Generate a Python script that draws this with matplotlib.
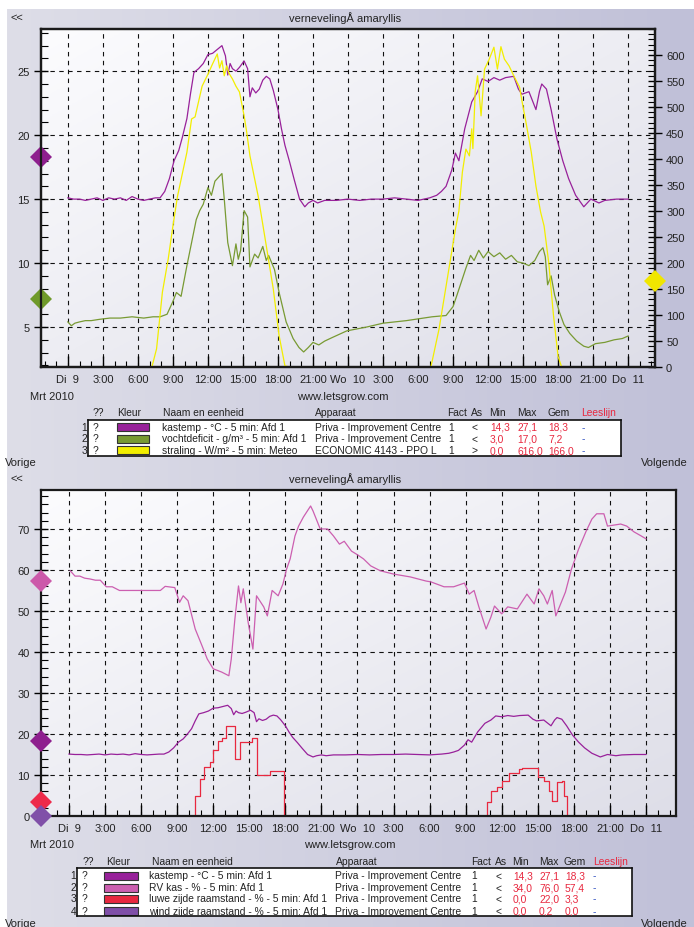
import numpy as np
import matplotlib
matplotlib.use("Agg")
import matplotlib.pyplot as plt
from matplotlib.patches import Rectangle

plt.rcParams['font.family'] = ['Liberation Sans', 'DejaVu Sans']

W, H = 694, 928

# tijd in uren vanaf Di 9 maart 2010 00:00
t_kastemp = [0, 0.5, 1.0, 1.5, 2.0, 2.5, 3.0, 3.5, 4.0, 4.5, 5.0, 5.5, 6.0, 6.5, 7.0, 7.5,
             7.9, 8.3, 8.7, 9.1, 9.5, 9.8, 10.2, 10.5, 10.8, 11.2, 11.6, 12.0, 12.4, 12.8,
             13.2, 13.5, 13.7, 13.9, 14.1, 14.4, 14.7, 15.1, 15.4, 15.6, 15.8, 16.1, 16.4,
             16.7, 17.0, 17.3, 17.6, 18.0, 18.3, 18.6, 19.0, 19.4, 19.85, 20.3, 20.6, 21.0,
             21.4, 22, 23, 24, 25, 26, 27, 28, 29, 30, 31, 31.6, 32.0, 32.4, 32.9, 33.2,
             33.5, 34.0, 34.6, 35.1, 35.5, 36.0, 36.5, 37.0, 37.5, 38.2, 38.6, 38.9, 39.5,
             40.1, 40.4, 40.6, 41.0, 41.4, 41.9, 42.4, 42.9, 43.5, 44.2, 44.8, 45.5, 46, 47, 48]
kastemp = [15.1, 15.0, 15.0, 14.9, 15.0, 15.1, 14.9, 15.1, 15.0, 15.1, 14.9, 15.2, 15.0, 14.9,
           15.0, 15.1, 15.1, 15.6, 16.6, 18.0, 18.8, 19.8, 21.3, 23.2, 24.9, 25.2, 25.6, 26.3,
           26.4, 26.7, 27.0, 26.2, 24.7, 25.6, 25.2, 25.0, 25.3, 25.8, 25.2, 23.0, 23.7, 23.3,
           23.6, 24.3, 24.6, 24.4, 23.5, 22.0, 20.5, 19.2, 17.9, 16.5, 15.0, 14.4, 14.7, 14.9,
           14.7, 14.9, 14.9, 15.0, 14.9, 15.0, 15.0, 15.1, 15.0, 14.9, 15.1, 15.3, 15.6, 16.0,
           17.3, 18.6, 18.0, 20.5, 22.6, 23.4, 24.4, 24.2, 24.5, 24.3, 24.5, 24.6, 23.6, 23.2,
           23.4, 22.0, 23.4, 24.0, 23.6, 22.0, 19.7, 18.0, 16.6, 15.3, 14.4, 15.0, 14.7, 14.9,
           15.0, 15.0]

t_vocht = [0, 0.3, 0.6, 1.0, 1.5, 2.0, 2.7, 3.6, 4.5, 5.5, 6.5, 7.3, 7.9, 8.5, 9.0, 9.3, 9.7,
           10.2, 10.6, 11.0, 11.3, 11.6, 12.0, 12.3, 12.6, 12.9, 13.2, 13.4, 13.7, 14.1, 14.4,
           14.6, 14.8, 15.1, 15.4, 15.6, 16.0, 16.3, 16.7, 17.0, 17.2, 17.7, 18.1, 18.7, 19.3,
           19.8, 20.2, 20.6, 21.0, 21.5, 22.0, 22.7, 23.9, 25.6, 27.0, 29.0, 31.2, 32.4, 33.0,
           33.3, 33.7, 34.1, 34.5, 34.8, 35.2, 35.6, 36.0, 36.5, 37.0, 37.5, 38.0, 38.5, 39.0,
           39.5, 40.0, 40.4, 40.7, 40.9, 41.1, 41.4, 41.7, 42.1, 42.5, 43.0, 43.6, 44.2, 44.6,
           45.2, 46.0, 46.8, 47.5, 48.0]
vocht = [5.4, 5.1, 5.3, 5.4, 5.5, 5.5, 5.6, 5.7, 5.7, 5.8, 5.7, 5.8, 5.8, 6.0, 7.0, 7.7, 7.4,
         9.8, 11.6, 13.4, 14.1, 14.6, 15.9, 15.3, 16.4, 16.7, 17.0, 15.0, 11.6, 9.8, 11.5, 10.3,
         11.0, 14.1, 13.6, 9.7, 10.7, 10.4, 11.3, 10.2, 10.6, 9.5, 7.7, 5.4, 4.1, 3.4, 3.05, 3.4,
         3.8, 3.6, 3.9, 4.2, 4.7, 5.0, 5.3, 5.5, 5.8, 5.9, 6.6, 7.4, 8.5, 9.6, 10.6, 10.2, 11.0,
         10.4, 10.9, 10.5, 10.8, 10.3, 10.6, 10.1, 10.0, 9.8, 10.2, 10.9, 11.2, 10.5, 8.3, 9.0,
         7.5, 6.2, 5.2, 4.5, 3.9, 3.5, 3.4, 3.7, 3.8, 4.0, 4.1, 4.3]

t_straling = [0, 7.2, 7.6, 8.1, 8.6, 9.0, 9.4, 10.2, 10.6, 10.9, 11.5, 12.0, 12.4, 12.8, 13.0,
              13.2, 13.4, 13.6, 13.8, 14.1, 14.4, 14.7, 15.1, 15.3, 15.6, 16.3, 17.0, 17.6,
              18.1, 18.6, 19.0, 31.1, 31.8, 32.5, 33.2, 33.5, 33.8, 34.1, 34.4, 34.6, 34.7,
              34.9, 35.1, 35.4, 35.7, 36.1, 36.5, 36.8, 37.1, 37.4, 37.8, 38.2, 38.7, 38.9,
              39.3, 39.7, 40.1, 40.5, 40.8, 41.2, 41.6, 42.0, 42.3, 48]
straling = [0, 0, 35, 144, 208, 271, 329, 413, 477, 481, 540, 563, 583, 602, 575, 589, 560, 579,
            565, 554, 540, 529, 483, 455, 406, 329, 233, 150, 60, 2, 0, 0, 73, 169, 265, 300,
            375, 419, 406, 458, 420, 530, 560, 483, 573, 592, 615, 573, 616, 592, 579, 560, 538,
            512, 464, 413, 348, 298, 271, 200, 100, 20, 0, 0]

t_rv = [0.1, 0.5, 0.9, 1.3, 1.75, 2.2, 2.6, 3.1, 3.6, 4.2, 5, 6, 7, 7.6, 8.0, 8.8, 9.2, 9.5,
        9.9, 10.5, 11.0, 11.5, 12.0, 12.7, 13.3, 13.5, 13.8, 14.1, 14.3, 14.5, 14.9, 15.3,
        15.6, 16.2, 16.5, 16.9, 17.4, 17.8, 18.1, 18.4, 18.8, 19.1, 19.5, 20.1, 20.3, 20.9,
        21.5, 22.0, 22.5, 22.9, 23.5, 24.0, 24.5, 25.1, 25.9, 27.0, 28.4, 29.7, 30.1, 31.2,
        32.0, 32.9, 33.3, 33.7, 34.1, 34.7, 35.1, 35.4, 36.0, 36.5, 37.3, 38.1, 38.7, 39.1,
        39.5, 39.8, 40.2, 40.5, 40.9, 41.3, 41.8, 42.4, 43.0, 43.5, 43.9, 44.5, 44.8, 45.9,
        46.4, 47.0, 47.6, 48.0]
rv_kas = [59.8, 58.5, 58.5, 58.0, 57.8, 57.5, 57.5, 55.9, 55.9, 55.0, 55.0, 55.0, 55.0, 55.0,
          56.0, 55.7, 52.1, 53.7, 52.5, 45.6, 42.0, 38.3, 35.9, 35.1, 34.2, 38.3, 48.0, 56.1,
          52.0, 55.4, 47.3, 40.7, 53.7, 51.0, 48.8, 55.0, 53.7, 56.6, 60.2, 62.7, 68.3, 70.7,
          72.9, 75.6, 74.4, 70.0, 70.0, 68.3, 66.3, 67.0, 64.6, 63.7, 62.7, 61.0, 59.8, 59.0,
          58.3, 57.3, 57.1, 55.9, 55.9, 56.8, 54.1, 55.0, 51.0, 45.6, 48.5, 51.2, 49.3, 51.0,
          50.5, 54.1, 51.7, 55.4, 53.7, 51.7, 55.0, 48.8, 51.7, 54.6, 60.2, 65.1, 69.3, 72.4,
          73.7, 73.7, 70.7, 71.2, 70.7, 69.3, 68.3, 67.6]

t_luwe = [0, 10.1, 10.5, 10.9, 11.2, 11.7, 12.0, 12.4, 12.7, 13.1, 13.8, 14.2, 15.2, 15.6, 16.7,
          17.9, 34.3, 34.8, 35.1, 35.6, 36.0, 36.6, 37.4, 37.7, 39.0, 39.5, 39.9, 40.2, 40.6,
          41.0, 41.2, 41.4, 48]
luwe = [0, 0, 4.9, 9.0, 12.0, 13.2, 16.0, 18.3, 19.0, 22.0, 14.0, 18.0, 19.0, 10.0, 11.0,
        0, 0, 3.5, 6.2, 7.0, 8.6, 10.6, 11.5, 11.8, 9.5, 8.6, 6.1, 3.7, 8.3, 8.6, 4.9, 0, 0]

t_wind = [0, 48]
wind = [0.0, 0.0]

xlabels = ['Di  9', '3:00', '6:00', '9:00', '12:00', '15:00', '18:00', '21:00', 'Wo  10',
           '3:00', '6:00', '9:00', '12:00', '15:00', '18:00', '21:00', 'Do  11']

top_names = ['kastemp - °C - 5 min: Afd 1', 'vochtdeficit - g/m³ - 5 min: Afd 1',
             'straling - W/m² - 5 min: Meteo']
top_app = ['Priva - Improvement Centre', 'Priva - Improvement Centre', 'ECONOMIC 4143 - PPO L']
top_as = ['<', '<', '>']
top_min = [14.3, 3.0, 0.0]
top_max = [27.1, 17.0, 616.0]
top_gem = [18.3, 7.2, 166.0]

bot_names = ['kastemp - °C - 5 min: Afd 1', 'RV kas - % - 5 min: Afd 1',
             'luwe zijde raamstand - % - 5 min: Afd 1', 'wind zijde raamstand - % - 5 min: Afd 1']
bot_app = ['Priva - Improvement Centre'] * 4
bot_as = ['<', '<', '<', '<']
bot_min = [14.3, 34.0, 0.0, 0.0]
bot_max = [27.1, 76.0, 22.0, 0.2]
bot_gem = [18.3, 57.4, 3.3, 0.0]

c_temp = '#98219a'
c_vocht = '#789a33'
c_straling = '#f2ee00'
c_rv = '#cc5fb0'
c_luwe = '#e8283f'
c_wind = '#7f4fa8'

header_cols = ['??', 'Kleur', 'Naam en eenheid', 'Apparaat', 'Fact', 'As', 'Min', 'Max', 'Gem',
               'Leeslijn']
title = 'vernevelingÅ amaryllis'


def px(l, t, r, b):
    return [l / W, 1 - b / H, (r - l) / W, (b - t) / H]


def fmt(v):
    return ('%.1f' % v).replace('.', ',')


fig = plt.figure(figsize=(W / 100, H / 100), dpi=100)

# achtergrond
bg = fig.add_axes([0, 0, 1, 1], zorder=0)
c = np.linspace(0, 1, 256)
lc = np.array([222, 222, 232]) / 255
rc = np.array([192, 192, 216]) / 255
grad = lc[None, :] * (1 - c[:, None]) + rc[None, :] * c[:, None]
bg.imshow(grad[None, :, :], extent=[7, W, H, 10], aspect='auto')
bg.set_xlim(0, W)
bg.set_ylim(H, 0)
bg.axis('off')

# overlay voor teksten
ov = fig.add_axes([0, 0, 1, 1], zorder=5)
ov.set_xlim(0, W)
ov.set_ylim(H, 0)
ov.axis('off')


def plot_bg(ax):
    g = np.linspace(0, 1, 120)
    G = (g[None, :] + g[:, None]) / 2
    tc = np.array([252, 252, 254]) / 255
    bc = np.array([222, 222, 232]) / 255
    img = tc * (1 - G)[..., None] + bc * G[..., None]
    ax.imshow(img, extent=[0, 1, 0, 1], transform=ax.transAxes, aspect='auto', zorder=-1)


def style_axes(ax, xlim, ylim, ymaj, ymin):
    ax.set_xlim(*xlim)
    ax.set_ylim(*ylim)
    ax.set_xticks(np.arange(0, 49, 3))
    ax.set_xticklabels(xlabels)
    ax.set_xticks(np.arange(-2, 51, 1), minor=True)
    ax.set_yticks(ymaj)
    ax.set_yticks(ymin, minor=True)
    ax.tick_params(axis='x', which='major', direction='in', length=8, width=1, labelsize=8,
                   pad=5, labelcolor='#222')
    ax.tick_params(axis='x', which='minor', direction='in', length=4, width=0.8)
    ax.tick_params(axis='y', which='major', direction='inout', length=10, width=1, labelsize=8,
                   pad=3, labelcolor='#222')
    ax.tick_params(axis='y', which='minor', direction='in', length=5, width=0.8)
    ax.grid(True, which='major', color='#111', ls=(0, (4, 4)), lw=0.8)
    for s in ax.spines.values():
        s.set_linewidth(1.6)
        s.set_color('#1a1a1a')


DM = 11.5  # diamant grootte

# ---------- bovenste grafiek ----------
ax1 = fig.add_axes(px(41, 30, 655, 368), zorder=1)
plot_bg(ax1)
ax1.plot(t_vocht, vocht, color=c_vocht, lw=0.9)
ax1.plot(t_kastemp, kastemp, color=c_temp, lw=0.9)
style_axes(ax1, (-2.3, 50.3), (1.875, 28.3), np.arange(5, 26, 5), np.arange(2, 29, 1))
ax1.plot(-2.3, top_gem[0], marker='D', ms=DM, color='#8e1f8e', clip_on=False, zorder=6, mew=0)
ax1.plot(-2.3, top_gem[1], marker='D', ms=DM, color='#6f9a2a', clip_on=False, zorder=6, mew=0)

ax1r = ax1.twinx()
ax1r.plot(t_straling, straling, color=c_straling, lw=0.9)
ax1r.set_ylim(0, 650)
ax1r.set_yticks(np.arange(0, 601, 50))
ax1r.set_yticks(np.arange(0, 651, 10), minor=True)
ax1r.tick_params(axis='y', which='major', direction='inout', length=10, width=1, labelsize=8,
                 pad=3, labelcolor='#222')
ax1r.tick_params(axis='y', which='minor', direction='in', length=5, width=0.8)
for s in ax1r.spines.values():
    s.set_linewidth(1.6)
    s.set_color('#1a1a1a')
ax1r.plot(50.3, top_gem[2], marker='D', ms=DM, color='#f0e600', clip_on=False, zorder=6, mew=0)

# ---------- onderste grafiek ----------
ax2 = fig.add_axes(px(41, 491, 676, 817), zorder=1)
plot_bg(ax2)
ax2.plot(t_wind, wind, color=c_wind, lw=0.9)
ax2.plot(t_luwe, luwe, color=c_luwe, lw=0.9, drawstyle='steps-post')
ax2.plot(t_kastemp, kastemp, color=c_temp, lw=0.9)
ax2.plot(t_rv, rv_kas, color=c_rv, lw=0.9)
style_axes(ax2, (-2.33, 50.5), (0, 79.5), np.arange(0, 71, 10), np.arange(0, 80, 2))
for v, col in zip(bot_gem, ['#8e1f8e', '#cc5aaa', '#ee2a4a', '#8050a8']):
    ax2.plot(-2.33, v, marker='D', ms=DM, color=col, clip_on=False, zorder=6, mew=0)

# ---------- teksten ----------
txt = dict(fontsize=8, color='#222', va='center')
for y in (18, 479):
    ov.text(11, y, '<<', ha='left', **txt)
    ov.text(345, y, title, ha='center', **txt)
ov.text(30, 397, 'Mrt 2010', ha='left', **txt)
ov.text(343, 397, 'www.letsgrow.com', ha='center', **txt)
ov.text(30, 845, 'Mrt 2010', ha='left', **txt)
ov.text(350, 845, 'www.letsgrow.com', ha='center', **txt)
for y in (463, 924):
    ov.text(5, y, 'Vorige', ha='left', **txt)
    ov.text(641, y, 'Volgende', ha='left', **txt)


def draw_table(bx, head_y, head_x, row_y, col_x, names, app, asl, mn, mx, gem, colors):
    l, t, r, b = bx
    tab = fig.add_axes(px(l, t, r, b), zorder=4)
    tab.set_xlim(l, r)
    tab.set_ylim(b, t)
    tab.set_xticks([])
    tab.set_yticks([])
    tab.set_facecolor('white')
    for s in tab.spines.values():
        s.set_linewidth(1.2)
        s.set_color('#111')
    fs = 7.4
    for lab, x in zip(header_cols, head_x):
        ov.text(x, head_y, lab, ha='left', va='center', fontsize=fs,
                color='#e8283f' if lab == 'Leeslijn' else '#222')
    for i, y in enumerate(row_y):
        ov.text(col_x['num'], y, str(i + 1), ha='right', va='center', fontsize=fs, color='#222')
        kw = dict(va='center', fontsize=fs, clip_on=True)
        tab.text(col_x['q'], y, '?', color='#222', **kw)
        x0, x1 = col_x['sw']
        tab.add_patch(Rectangle((x0, y - 4), x1 - x0, 8, facecolor=colors[i], edgecolor='#333',
                                lw=0.8))
        tab.text(col_x['name'], y, names[i], color='#222', **kw)
        tab.text(col_x['app'], y, app[i], color='#222', **kw)
        tab.text(col_x['fact'], y, '1', color='#222', **kw)
        tab.text(col_x['as'], y, asl[i], color='#222', **kw)
        tab.text(col_x['min'], y, fmt(mn[i]), color='#e8283f', **kw)
        tab.text(col_x['max'], y, fmt(mx[i]), color='#e8283f', **kw)
        tab.text(col_x['gem'], y, fmt(gem[i]), color='#e8283f', **kw)
        tab.text(col_x['dash'], y, '-', color='#3050c0', **kw)


draw_table((88, 421, 621, 457), 413,
           [93, 117, 163, 315, 447, 471, 489, 517, 548, 581],
           [428, 439.5, 451],
           dict(num=87, q=93, sw=(117, 149), name=162, app=315, fact=448, **{'as': 472},
                min=490, max=517, gem=548, dash=582),
           top_names, top_app, top_as, top_min, top_max, top_gem,
           [c_temp, c_vocht, c_straling])

draw_table((77, 869, 632, 917), 862,
           [83, 106, 152, 336, 471, 495, 512, 539, 564, 593],
           [876.5, 888.5, 899.5, 912],
           dict(num=76, q=82, sw=(104, 138), name=149, app=335, fact=471, **{'as': 496},
                min=513, max=539, gem=565, dash=593),
           bot_names, bot_app, bot_as, bot_min, bot_max, bot_gem,
           [c_temp, c_rv, c_luwe, c_wind])

fig.savefig('out.png', dpi=100)
